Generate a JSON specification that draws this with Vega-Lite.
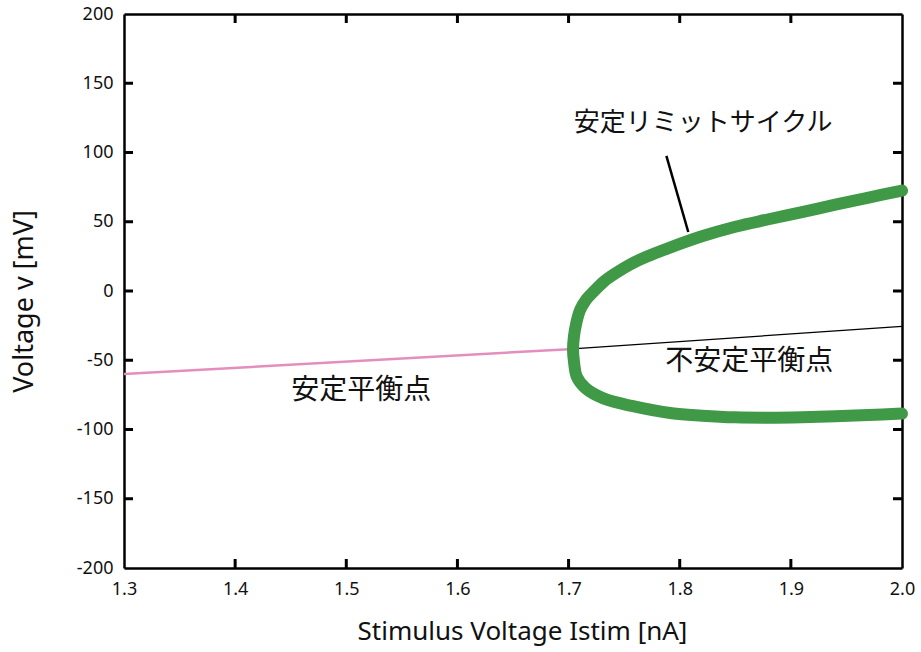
{
  "$schema": "https://vega.github.io/schema/vega-lite/v6.json",
  "width": 778,
  "height": 554,
  "autosize": "none",
  "padding": {"left": 124, "top": 14, "right": 19, "bottom": 84},
  "background": "white",
  "config": {
    "view": {"stroke": null},
    "axis": {
      "grid": false,
      "domainColor": "#000",
      "domainWidth": 2.5,
      "labelFont": "Noto Sans",
      "labelFontSize": 18,
      "labelColor": "#111",
      "titleFont": "Noto Sans",
      "titleFontWeight": "normal",
      "titleColor": "#111"
    }
  },
  "datasets": {
    "stable": [{"x": 1.3, "v": -60}, {"x": 1.7, "v": -42}],
    "unstable": [{"x": 1.7, "v": -42}, {"x": 2.0, "v": -25.5}],
    "cycle": [
      {"i": 1, "x": 2.0, "v": 72.5},
      {"i": 2, "x": 1.97, "v": 67.5},
      {"i": 3, "x": 1.94, "v": 62.3},
      {"i": 4, "x": 1.91, "v": 57},
      {"i": 5, "x": 1.88, "v": 51.8},
      {"i": 6, "x": 1.85, "v": 46.4},
      {"i": 7, "x": 1.82, "v": 39.5},
      {"i": 8, "x": 1.79, "v": 31},
      {"i": 9, "x": 1.77, "v": 24.7},
      {"i": 10, "x": 1.755, "v": 19},
      {"i": 11, "x": 1.743, "v": 13.2},
      {"i": 12, "x": 1.732, "v": 7},
      {"i": 13, "x": 1.7224, "v": -0.5},
      {"i": 14, "x": 1.716, "v": -6},
      {"i": 15, "x": 1.7104, "v": -13.7},
      {"i": 16, "x": 1.707, "v": -23},
      {"i": 17, "x": 1.7048, "v": -33},
      {"i": 18, "x": 1.704, "v": -42.5},
      {"i": 19, "x": 1.705, "v": -52},
      {"i": 20, "x": 1.7074, "v": -61.9},
      {"i": 21, "x": 1.7155, "v": -70.3},
      {"i": 22, "x": 1.7314, "v": -77.5},
      {"i": 23, "x": 1.7569, "v": -83},
      {"i": 24, "x": 1.7929, "v": -88.3},
      {"i": 25, "x": 1.82, "v": -90},
      {"i": 26, "x": 1.85, "v": -91.2},
      {"i": 27, "x": 1.88, "v": -91.5},
      {"i": 28, "x": 1.91, "v": -91.2},
      {"i": 29, "x": 1.94, "v": -90.5},
      {"i": 30, "x": 1.97, "v": -89.5},
      {"i": 31, "x": 2.0, "v": -88.5}
    ],
    "pointer": [{"x": 1.788, "v": 97.5, "x2": 1.8077, "v2": 42.6}],
    "xticks": [
      {"x": 1.4, "v": -200}, {"x": 1.5, "v": -200}, {"x": 1.6, "v": -200}, {"x": 1.7, "v": -200}, {"x": 1.8, "v": -200}, {"x": 1.9, "v": -200},
      {"x": 1.4, "v": 200}, {"x": 1.5, "v": 200}, {"x": 1.6, "v": 200}, {"x": 1.7, "v": 200}, {"x": 1.8, "v": 200}, {"x": 1.9, "v": 200}
    ],
    "yticks": [
      {"x": 1.3, "v": -150}, {"x": 1.3, "v": -100}, {"x": 1.3, "v": -50}, {"x": 1.3, "v": 0}, {"x": 1.3, "v": 50}, {"x": 1.3, "v": 100}, {"x": 1.3, "v": 150},
      {"x": 2.0, "v": -150}, {"x": 2.0, "v": -100}, {"x": 2.0, "v": -50}, {"x": 2.0, "v": 0}, {"x": 2.0, "v": 50}, {"x": 2.0, "v": 100}, {"x": 2.0, "v": 150}
    ],
    "labelsKana": [
      {"x": 1.821, "v": 121, "text": "安定リミットサイクル"}
    ],
    "labelsKanji": [
      {"x": 1.8625, "v": -51.5, "text": "不安定平衡点"},
      {"x": 1.5135, "v": -72, "text": "安定平衡点"}
    ]
  },
  "layer": [
    {
      "data": {"name": "stable"},
      "mark": {"type": "line", "color": "#e48ebd", "strokeWidth": 2.5},
      "encoding": {
        "x": {"field": "x", "type": "quantitative", "scale": {"domain": [1.3, 2.0], "nice": false, "zero": false},
          "axis": {"orient": "bottom", "values": [1.3, 1.4, 1.5, 1.6, 1.7, 1.8, 1.9, 2.0], "format": ".1f", "labelFlush": false, "ticks": false, "tickSize": 0, "labelPadding": 12,
            "title": "Stimulus Voltage Istim [nA]", "titleFontSize": 26, "titlePadding": 20, "titleX": 398}},
        "y": {"field": "v", "type": "quantitative", "scale": {"domain": [-200, 200], "nice": false, "zero": false},
          "axis": {"orient": "left", "values": [-200, -150, -100, -50, 0, 50, 100, 150, 200], "labelExpr": "datum.value + ''", "labelFlush": false, "ticks": false, "tickSize": 0, "labelPadding": 11,
            "title": "Voltage v [mV]", "titleFontSize": 27, "titlePadding": 38, "titleY": 287}}
      }
    },
    {
      "data": {"name": "unstable"},
      "mark": {"type": "line", "color": "#000", "strokeWidth": 1.2},
      "encoding": {
        "x": {"field": "x", "type": "quantitative",
          "axis": {"orient": "top", "ticks": false, "labels": false, "title": null}},
        "y": {"field": "v", "type": "quantitative",
          "axis": {"orient": "right", "ticks": false, "labels": false, "title": null}}
      }
    },
    {
      "data": {"name": "xticks"},
      "transform": [{"filter": "datum.v < 0"}],
      "mark": {"type": "tick", "orient": "vertical", "color": "#000", "opacity": 1, "size": 9, "thickness": 3, "yOffset": -4.5},
      "encoding": {
        "x": {"field": "x", "type": "quantitative", "axis": null},
        "y": {"field": "v", "type": "quantitative", "axis": null}
      }
    },
    {
      "data": {"name": "xticks"},
      "transform": [{"filter": "datum.v > 0"}],
      "mark": {"type": "tick", "orient": "vertical", "color": "#000", "opacity": 1, "size": 9, "thickness": 3, "yOffset": 4.5},
      "encoding": {
        "x": {"field": "x", "type": "quantitative", "axis": null},
        "y": {"field": "v", "type": "quantitative", "axis": null}
      }
    },
    {
      "data": {"name": "yticks"},
      "transform": [{"filter": "datum.x < 1.5"}],
      "mark": {"type": "tick", "orient": "horizontal", "color": "#000", "opacity": 1, "size": 9, "thickness": 3, "xOffset": 4.5},
      "encoding": {
        "x": {"field": "x", "type": "quantitative", "axis": null},
        "y": {"field": "v", "type": "quantitative", "axis": null}
      }
    },
    {
      "data": {"name": "yticks"},
      "transform": [{"filter": "datum.x > 1.5"}],
      "mark": {"type": "tick", "orient": "horizontal", "color": "#000", "opacity": 1, "size": 9, "thickness": 3, "xOffset": -4.5},
      "encoding": {
        "x": {"field": "x", "type": "quantitative", "axis": null},
        "y": {"field": "v", "type": "quantitative", "axis": null}
      }
    },
    {
      "data": {"name": "cycle"},
      "mark": {"type": "line", "color": "#3f9946", "strokeWidth": 12, "strokeCap": "round", "strokeJoin": "round", "interpolate": "catmull-rom"},
      "encoding": {
        "x": {"field": "x", "type": "quantitative", "axis": null},
        "y": {"field": "v", "type": "quantitative", "axis": null},
        "order": {"field": "i", "type": "quantitative"}
      }
    },
    {
      "data": {"name": "pointer"},
      "mark": {"type": "rule", "color": "#000", "strokeWidth": 2.5},
      "encoding": {
        "x": {"field": "x", "type": "quantitative", "axis": null},
        "y": {"field": "v", "type": "quantitative", "axis": null},
        "x2": {"field": "x2"},
        "y2": {"field": "v2"}
      }
    },
    {
      "data": {"name": "labelsKana"},
      "mark": {"type": "text", "font": "Noto Sans CJK JP", "fontSize": 26, "color": "#111", "align": "center", "baseline": "middle"},
      "encoding": {
        "x": {"field": "x", "type": "quantitative", "axis": null},
        "y": {"field": "v", "type": "quantitative", "axis": null},
        "text": {"field": "text"}
      }
    },
    {
      "data": {"name": "labelsKanji"},
      "mark": {"type": "text", "font": "Noto Sans CJK JP", "fontSize": 28, "color": "#111", "align": "center", "baseline": "middle"},
      "encoding": {
        "x": {"field": "x", "type": "quantitative", "axis": null},
        "y": {"field": "v", "type": "quantitative", "axis": null},
        "text": {"field": "text"}
      }
    }
  ],
  "resolve": {"axis": {"x": "independent", "y": "independent"}}
}
